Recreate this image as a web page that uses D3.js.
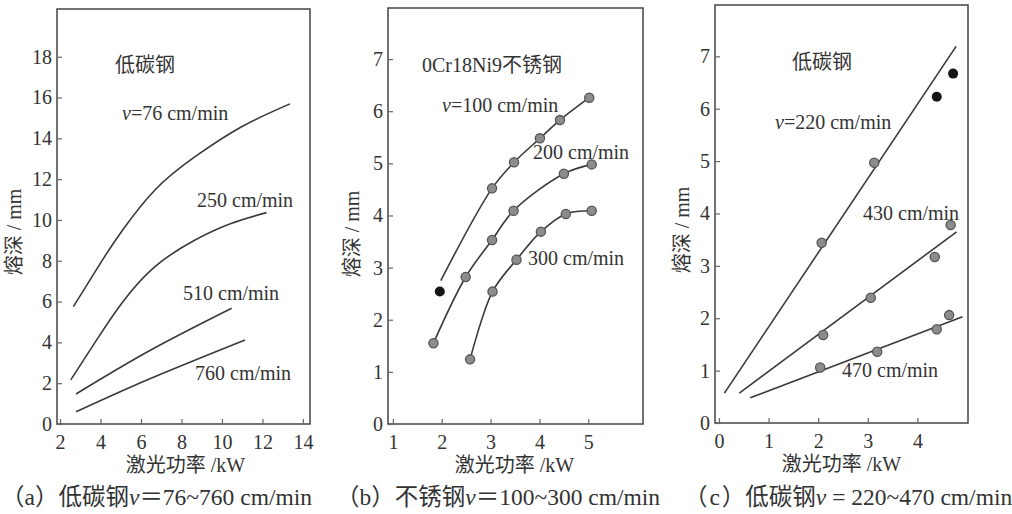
<!DOCTYPE html>
<html>
<head>
<meta charset="utf-8">
<script src="https://cdn.jsdelivr.net/npm/d3@7"></script>
<style>
  body { margin: 0; background: #fff; }
  svg text { font-family: "Liberation Serif", "Noto Sans CJK SC", serif; fill: #333; }
</style>
</head>
<body>
<div id="chart"></div>
<script>
// 1: DATA  ([power kW, depth mm])
// (a) low carbon steel
const aCurve76 = [[2.66, 5.75], [4.06, 7.98], [5.05, 9.45], [6.69, 11.47], [8.67, 13.1], [10.97, 14.57], [13.36, 15.69]];
const aCurve250 = [[2.53, 2.16], [3.81, 4.12], [5.05, 5.92], [6.69, 7.71], [8.67, 9.02], [10.48, 9.84], [12.2, 10.36]];
const aCurve510 = [[2.79, 1.47], [6.44, 3.6], [10.48, 5.67]];
const aCurve760 = [[2.79, 0.6], [6.44, 2.22], [11.14, 4.12]];
const aXTicks = [2, 4, 6, 8, 10, 12, 14];
const aYTicks = [0, 2, 4, 6, 8, 10, 12, 14, 16, 18];
const aLabels = ["低碳钢", "=76 cm/min", "250 cm/min", "510 cm/min", "760 cm/min"];

// (b) stainless steel 0Cr18Ni9
const bCurve100 = [[1.98, 2.75], [3.03, 4.52], [3.48, 5.02], [4.01, 5.48], [4.42, 5.83], [5.02, 6.26]];
const bPoints100 = [[3.03, 4.52], [3.48, 5.02], [4.01, 5.48], [4.42, 5.83], [5.02, 6.26]];
const bOutlier100 = [[1.96, 2.54]];
const bPoints200 = [[1.83, 1.55], [2.49, 2.82], [3.03, 3.53], [3.47, 4.09], [4.5, 4.8], [5.07, 4.98]];
const bPoints300 = [[2.58, 1.24], [3.04, 2.54], [3.53, 3.15], [4.03, 3.69], [4.54, 4.03], [5.07, 4.09]];
const bXTicks = [1, 2, 3, 4, 5];
const bYTicks = [0, 1, 2, 3, 4, 5, 6, 7];
const bLabels = ["0Cr18Ni9不锈钢", "=100 cm/min", "200 cm/min", "300 cm/min"];

// (c) low carbon steel, fitted lines
const cLine220 = [[0.11, 0.57], [4.78, 7.19]];
const cPoints220 = [[2.07, 3.44], [3.13, 4.97]];
const cOutliers220 = [[4.39, 6.23], [4.72, 6.67]];
const cLine430 = [[0.41, 0.57], [4.79, 3.65]];
const cPoints430 = [[2.1, 1.68], [3.06, 2.39], [4.35, 3.17], [4.67, 3.78]];
const cLine470 = [[0.63, 0.48], [4.91, 2.03]];
const cPoints470 = [[2.04, 1.06], [3.19, 1.36], [4.39, 1.79], [4.64, 2.06]];
const cXTicks = [0, 1, 2, 3, 4];
const cYTicks = [0, 1, 2, 3, 4, 5, 6, 7];
const cLabels = ["低碳钢", "=220 cm/min", "430 cm/min", "470 cm/min"];

const xTitle = "激光功率 /kW";
const yTitle = "熔深 / mm";
const captions = ["（a）低碳钢", "（b）不锈钢", "（\u200Ac\u200A）低碳钢"];
const captionTails = ["＝76~760 cm/min", "＝100~300 cm/min", " = 220~470 cm/min"];

// 2: SVG
const W = 1012, H = 514;
const svg = d3.select("#chart").append("svg")
  .attr("width", W).attr("height", H);

const ink = "#3a3a3a";

function drawPanel(p) {
  const x = d3.scaleLinear().domain(p.xDomain).range([p.left, p.right]);
  const y = d3.scaleLinear().domain(p.yDomain).range([p.bottom, p.top]);
  const g = svg.append("g");

  // frame
  g.append("rect")
    .attr("x", p.left).attr("y", p.top)
    .attr("width", p.right - p.left).attr("height", p.bottom - p.top)
    .attr("fill", "none").attr("stroke", "#444").attr("stroke-width", 1.5);

  // axes with inward ticks
  const xAxis = g.append("g")
    .attr("transform", `translate(0,${p.bottom})`)
    .call(d3.axisBottom(x).tickValues(p.xTicks).tickFormat(d3.format("d"))
      .tickSizeInner(-5).tickSizeOuter(0).tickPadding(8));
  const yAxis = g.append("g")
    .attr("transform", `translate(${p.left},0)`)
    .call(d3.axisLeft(y).tickValues(p.yTicks).tickFormat(d3.format("d"))
      .tickSizeInner(-5).tickSizeOuter(0).tickPadding(5));
  [xAxis, yAxis].forEach(a => {
    a.select(".domain").remove();
    a.selectAll("line").attr("stroke", "#666").attr("stroke-width", 1.2);
    a.selectAll("text").attr("font-size", 20).attr("fill", "#333")
      .style("font-family", "'Liberation Serif', serif");
  });
  xAxis.selectAll("text").attr("dy", "0.85em");

  const line = d3.line().x(d => x(d[0])).y(d => y(d[1]));
  p.curves.forEach(c => {
    g.append("path")
      .attr("d", line.curve(c.curve || d3.curveLinear)(c.data))
      .attr("fill", "none").attr("stroke", ink).attr("stroke-width", 1.6);
  });

  p.points.forEach(set => {
    g.selectAll(null).data(set).enter().append("circle")
      .attr("cx", d => x(d[0])).attr("cy", d => y(d[1])).attr("r", 4.6)
      .attr("fill", "#8c8c8c").attr("stroke", "#555").attr("stroke-width", 1.3);
  });
  p.outliers.forEach(set => {
    g.selectAll(null).data(set).enter().append("circle")
      .attr("cx", d => x(d[0])).attr("cy", d => y(d[1])).attr("r", 5)
      .attr("fill", "#151515");
  });

  // in-plot labels
  p.labels.forEach((t, i) => {
    const pos = p.labelPos[i];
    const tx = g.append("text")
      .attr("x", pos[0]).attr("y", pos[1])
      .attr("dominant-baseline", "central")
      .attr("font-size", 20);
    if (t.startsWith("=")) {
      tx.append("tspan").attr("font-style", "italic").text("v");
    }
    tx.append("tspan").text(t);
  });

  // axis titles
  g.append("text")
    .attr("x", (p.left + p.right) / 2 + p.xTitleShift).attr("y", p.bottom + 41)
    .attr("text-anchor", "middle").attr("dominant-baseline", "central")
    .attr("font-size", 20).text(xTitle);
  g.append("text")
    .attr("transform", `translate(${p.yTitleX},${p.yTitleY}) rotate(-90)`)
    .attr("text-anchor", "middle").attr("dominant-baseline", "central")
    .attr("font-size", 20).text(yTitle);

  // caption
  const cap = g.append("text")
    .attr("x", p.captionX).attr("y", 497)
    .attr("dominant-baseline", "central")
    .attr("font-size", 23.5).attr("fill", "#444");
  cap.append("tspan").text(p.caption);
  cap.append("tspan").attr("font-style", "italic").text("v");
  cap.append("tspan").text(p.captionTail);
}

const smoothA = d3.curveNatural;
const smoothB = d3.curveCatmullRom.alpha(0.5);

drawPanel({
  left: 57, right: 310, top: 9, bottom: 424,
  xDomain: [1.85, 14.35], yDomain: [0, 20.34],
  xTicks: aXTicks, yTicks: aYTicks,
  curves: [
    { data: aCurve76, curve: smoothA }, { data: aCurve250, curve: smoothA },
    { data: aCurve510, curve: smoothA }, { data: aCurve760, curve: smoothA }
  ],
  points: [], outliers: [],
  labels: aLabels,
  labelPos: [[115, 65], [122, 113], [197, 200], [183, 293], [195, 373]],
  xTitleShift: 2, yTitleX: 14, yTitleY: 232,
  caption: captions[0], captionTail: captionTails[0], captionX: 1
});

drawPanel({
  left: 388, right: 643, top: 8, bottom: 424,
  xDomain: [0.9, 6.12], yDomain: [0, 7.98],
  xTicks: bXTicks, yTicks: bYTicks,
  curves: [
    { data: bCurve100, curve: smoothB }, { data: bPoints200, curve: smoothB },
    { data: bPoints300, curve: smoothB }
  ],
  points: [bPoints100, bPoints200, bPoints300], outliers: [bOutlier100],
  labels: bLabels,
  labelPos: [[422, 65], [442, 105], [533, 152], [528, 258]],
  xTitleShift: -1, yTitleX: 352, yTitleY: 234,
  caption: captions[1], captionTail: captionTails[1], captionX: 336
});

drawPanel({
  left: 715, right: 968, top: 5, bottom: 423,
  xDomain: [-0.08, 5.02], yDomain: [0, 7.98],
  xTicks: cXTicks, yTicks: cYTicks,
  curves: [
    { data: cLine220 }, { data: cLine430 }, { data: cLine470 }
  ],
  points: [cPoints220, cPoints430, cPoints470], outliers: [cOutliers220],
  labels: cLabels,
  labelPos: [[792, 62], [775, 122], [863, 213], [842, 370]],
  xTitleShift: 0, yTitleX: 682, yTitleY: 230,
  caption: captions[2], captionTail: captionTails[2], captionX: 684
});
</script>
</body>
</html>
